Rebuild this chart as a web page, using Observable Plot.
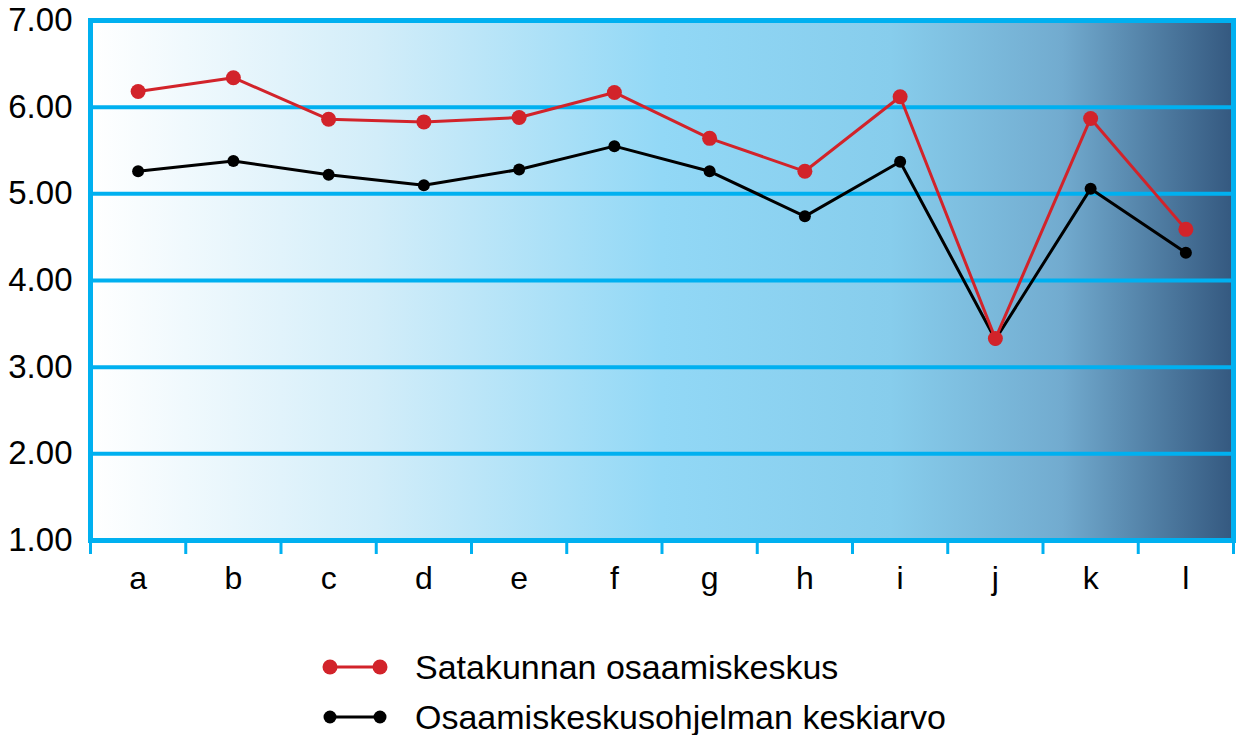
<!DOCTYPE html>
<html>
<head>
<meta charset="utf-8">
<script src="https://cdn.jsdelivr.net/npm/d3@7"></script>
<script src="https://cdn.jsdelivr.net/npm/@observablehq/plot@0.6"></script>
<style>
  body { margin: 0; background: #fff; font-family: "Liberation Sans", Arial, sans-serif; }
  #chart { width: 1237px; height: 630px; }
  .legend { position: relative; height: 105px; font-size: 34px; color: #000; }
  .legend .row { position: absolute; left: 320px; height: 40px; display: flex; align-items: center; line-height: 40px; }
  .legend svg { margin-right: 25px; }
</style>
</head>
<body>
<div id="chart"></div>
<div class="legend" id="legend"></div>
<script>
const categories = ["a","b","c","d","e","f","g","h","i","j","k","l"];
const satakunta = [6.18, 6.34, 5.86, 5.83, 5.88, 6.17, 5.64, 5.26, 6.12, 3.33, 5.87, 4.59];
const average   = [5.26, 5.38, 5.22, 5.10, 5.28, 5.55, 5.26, 4.74, 5.37, 3.32, 5.06, 4.32];
const yTicks = [1, 2, 3, 4, 5, 6, 7];
const seriesNames = ["Satakunnan osaamiskeskus", "Osaamiskeskusohjelman keskiarvo"];
const seriesColors = ["#d2232a", "#000000"];

const rows = categories.flatMap((c, i) => [
  {cat: c, pos: i + 0.5, value: satakunta[i], series: seriesNames[0]},
  {cat: c, pos: i + 0.5, value: average[i], series: seriesNames[1]}
]);
const red = rows.filter(d => d.series === seriesNames[0]);
const blk = rows.filter(d => d.series === seriesNames[1]);
const boundaries = d3.range(categories.length + 1);
const centers = categories.map((c, i) => i + 0.5);

const cyan = "#00b0f0";

const plot = Plot.plot({
  width: 1237,
  height: 630,
  marginLeft: 90,
  marginRight: 4,
  marginTop: 20,
  marginBottom: 90,
  style: {fontFamily: "Liberation Sans, Arial, sans-serif", color: "#000", background: "#fff", overflow: "visible"},
  x: {domain: [0, categories.length], axis: null},
  y: {domain: [1, 7], axis: null},
  marks: [
    Plot.frame({fill: "url(#bggrad)", stroke: null}),
    Plot.ruleY(yTicks, {stroke: cyan, strokeWidth: 4}),
    Plot.frame({stroke: cyan, strokeWidth: 5}),
    Plot.axisY({ticks: yTicks, tickFormat: d3.format(".2f"), tickSize: 0, tickPadding: 18, fontSize: 33, anchor: "left", label: null}),
    Plot.axisX({ticks: boundaries, tickFormat: () => "", tickSize: 14, stroke: cyan, strokeWidth: 3, anchor: "bottom", label: null}),
    Plot.axisX({ticks: centers, tickFormat: (d) => categories[Math.floor(d)], tickSize: 0, tickPadding: 26, fontSize: 32, anchor: "bottom", label: null}),
    Plot.line(blk, {x: "pos", y: "value", stroke: seriesColors[1], strokeWidth: 3}),
    Plot.dot(blk, {x: "pos", y: "value", fill: seriesColors[1], r: 6}),
    Plot.line(red, {x: "pos", y: "value", stroke: seriesColors[0], strokeWidth: 3}),
    Plot.dot(red, {x: "pos", y: "value", fill: seriesColors[0], r: 7.5})
  ]
});

// gradient definition
const ns = "http://www.w3.org/2000/svg";
const defs = document.createElementNS(ns, "defs");
defs.innerHTML = `<linearGradient id="bggrad" x1="0" x2="1" y1="0" y2="0">
  <stop offset="0" stop-color="#ffffff"/>
  <stop offset="0.25" stop-color="#d2edf9"/>
  <stop offset="0.5" stop-color="#92d8f6"/>
  <stop offset="0.7" stop-color="#87cdec"/>
  <stop offset="0.85" stop-color="#72abcf"/>
  <stop offset="1" stop-color="#34587f"/>
</linearGradient>`;
plot.insertBefore(defs, plot.firstChild);
document.getElementById("chart").appendChild(plot);

// legend
const legend = document.getElementById("legend");
seriesNames.forEach((name, i) => {
  const row = document.createElement("div");
  row.className = "row";
  row.style.top = (i === 0 ? 17 : 67) + "px";
  const r = i === 0 ? 7.5 : 6.5;
  row.innerHTML = `<svg width="70" height="20" viewBox="0 0 70 20"><line x1="10" x2="60" y1="10" y2="10" stroke="${seriesColors[i]}" stroke-width="3"/><circle cx="10" cy="10" r="${r}" fill="${seriesColors[i]}"/><circle cx="60" cy="10" r="${r}" fill="${seriesColors[i]}"/></svg><span>${name}</span>`;
  legend.appendChild(row);
});
</script>
</body>
</html>
